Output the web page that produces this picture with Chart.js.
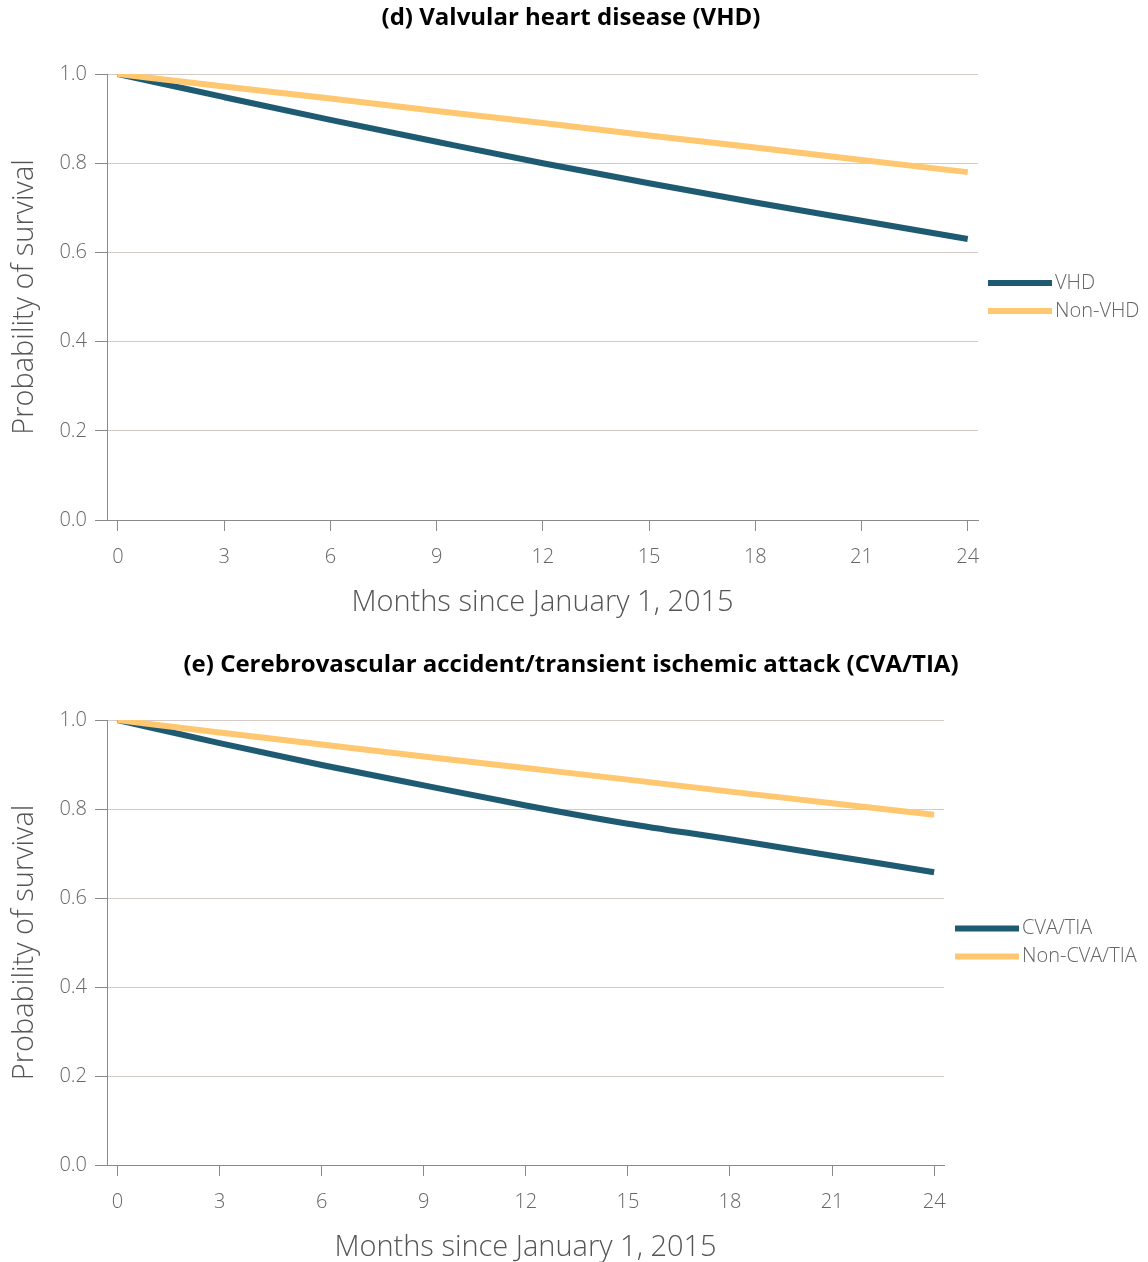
<!DOCTYPE html>
<html>
<head>
<meta charset="utf-8">
<title>Survival by comorbidity</title>
<script src="https://cdn.jsdelivr.net/npm/chart.js@4.4.1/dist/chart.umd.min.js"></script>
<style>
  html, body { margin: 0; padding: 0; background: #ffffff; overflow: hidden; }
  .panel { position: absolute; left: 0; width: 1148px; }
</style>
</head>
<body>
<div class="panel" style="top:0; height:633px;"><canvas id="vhdChart"></canvas></div>
<div class="panel" style="top:646px; height:619px;"><canvas id="cvaChart"></canvas></div>
<script>
// Months since January 1, 2015 at which survival is reported
const months = [0, 3, 6, 9, 12, 15, 18, 21, 24];
const monthTicks = [0, 3, 6, 9, 12, 15, 18, 21, 24];
const survivalTicks = [0, 0.2, 0.4, 0.6, 0.8, 1.0];

// (d) Valvular heart disease
const vhdLabels = ['VHD', 'Non-VHD'];
const vhd    = [1.000, 0.948, 0.897, 0.848, 0.800, 0.755, 0.712, 0.671, 0.630];
const nonVhd = [1.000, 0.972, 0.945, 0.917, 0.890, 0.862, 0.835, 0.807, 0.780];

// (e) Cerebrovascular accident / transient ischemic attack
const cvaLabels = ['CVA/TIA', 'Non-CVA/TIA'];
const cvaTia    = [1.000, 0.948, 0.899, 0.853, 0.808, 0.767, 0.732, 0.695, 0.658];
const nonCvaTia = [1.000, 0.972, 0.945, 0.918, 0.892, 0.866, 0.839, 0.813, 0.787];

const DARK = '#1e5b72';
const LIGHT = '#ffc76f';
const AXIS = '#8a8a8a';
const GRID = '#d6cac6';
const TEXT = '#666666';
const FONT = '"Open Sans", "DejaVu Sans", sans-serif';

// Legend drawn in the reserved strip right of the plot: a thick line swatch and a label per series
const sideLegend = {
  id: 'sideLegend',
  afterDraw(chart, args, opts) {
    const ctx = chart.ctx;
    const area = chart.chartArea;
    const mid = (area.top + area.bottom) / 2;
    const x0 = area.right + opts.gap;
    ctx.save();
    ctx.font = '300 20px ' + FONT;
    ctx.textBaseline = 'middle';
    ctx.textAlign = 'left';
    chart.data.datasets.forEach((ds, i) => {
      const y = mid + (i - 0.5) * 28;
      ctx.fillStyle = ds.borderColor;
      ctx.fillRect(x0, y - 3, opts.swatch, 6);
      ctx.fillStyle = TEXT;
      ctx.fillText(ds.label, x0 + opts.swatch + 3, y);
    });
    ctx.restore();
  }
};

function makeChart(id, title, labels, series, dims) {
  const toPoints = vals => months.map((m, i) => ({ x: m, y: vals[i] }));
  return new Chart(document.getElementById(id), {
    type: 'line',
    data: {
      datasets: [
        { label: labels[0], data: toPoints(series[0]), borderColor: DARK, order: 2 },
        { label: labels[1], data: toPoints(series[1]), borderColor: LIGHT, order: 1 }
      ]
    },
    options: {
      responsive: true,
      maintainAspectRatio: false,
      animation: false,
      devicePixelRatio: 1,
      layout: { padding: { left: 0, top: 0, right: 6, bottom: 0 } },
      elements: {
        line: { borderWidth: 6, cubicInterpolationMode: 'monotone', borderCapStyle: 'butt', fill: false },
        point: { radius: 0, hoverRadius: 0 }
      },
      plugins: {
        legend: { display: false },
        tooltip: { enabled: false },
        title: {
          display: true,
          text: title,
          color: '#000000',
          font: { family: FONT, size: 24, weight: 'bold', lineHeight: 1.2 },
          padding: { top: dims.titleTop, bottom: 74 - dims.titleTop - 28.8 }
        },
        sideLegend: { gap: dims.legendGap, swatch: 64 }
      },
      scales: {
        x: {
          type: 'linear',
          min: -0.31,
          max: 24.29,
          afterBuildTicks: s => { s.ticks = monthTicks.map(v => ({ value: v })); },
          afterFit: s => { s.height = dims.xHeight; },
          border: { display: true, color: AXIS, width: 1 },
          grid: { display: true, drawOnChartArea: false, drawTicks: true, tickLength: 11, tickColor: AXIS },
          ticks: { color: TEXT, padding: 14, font: { family: FONT, size: 20, weight: 300 } },
          title: {
            display: true,
            text: 'Months since January 1, 2015',
            color: '#555555',
            font: { family: FONT, size: 29, weight: 300, lineHeight: 1.2 },
            padding: { top: 0, bottom: dims.xTitleBottom }
          }
        },
        y: {
          type: 'linear',
          min: 0,
          max: 1,
          afterBuildTicks: s => { s.ticks = survivalTicks.map(v => ({ value: v })); },
          afterFit: s => { s.width = 107; },
          border: { display: true, color: AXIS, width: 1 },
          grid: { color: GRID, lineWidth: 1, drawTicks: true, tickLength: 12, tickColor: AXIS },
          ticks: {
            color: TEXT, padding: 8,
            font: { family: FONT, size: 20, weight: 300 },
            callback: v => Number(v).toFixed(1)
          },
          title: {
            display: true,
            text: 'Probability of survival',
            color: '#555555',
            font: { family: FONT, size: 29, weight: 300, lineHeight: 1.2 },
            padding: { top: 7, bottom: 0 }
          }
        },
        // Empty right-hand strip that holds the legend
        legendStrip: {
          type: 'linear',
          position: 'right',
          display: true,
          afterFit: s => { s.width = dims.stripWidth; },
          border: { display: false },
          grid: { display: false },
          ticks: { display: false }
        }
      }
    },
    plugins: [sideLegend]
  });
}

makeChart('vhdChart', '(d) Valvular heart disease (VHD)', vhdLabels, [vhd, nonVhd],
  { stripWidth: 164, xHeight: 113, xTitleBottom: 12.6, titleTop: 3.6, legendGap: 10 });

makeChart('cvaChart', '(e) Cerebrovascular accident/transient ischemic attack (CVA/TIA)', cvaLabels, [cvaTia, nonCvaTia],
  { stripWidth: 198, xHeight: 100, xTitleBottom: 0, titleTop: 4.6, legendGap: 11 });
</script>
</body>
</html>
